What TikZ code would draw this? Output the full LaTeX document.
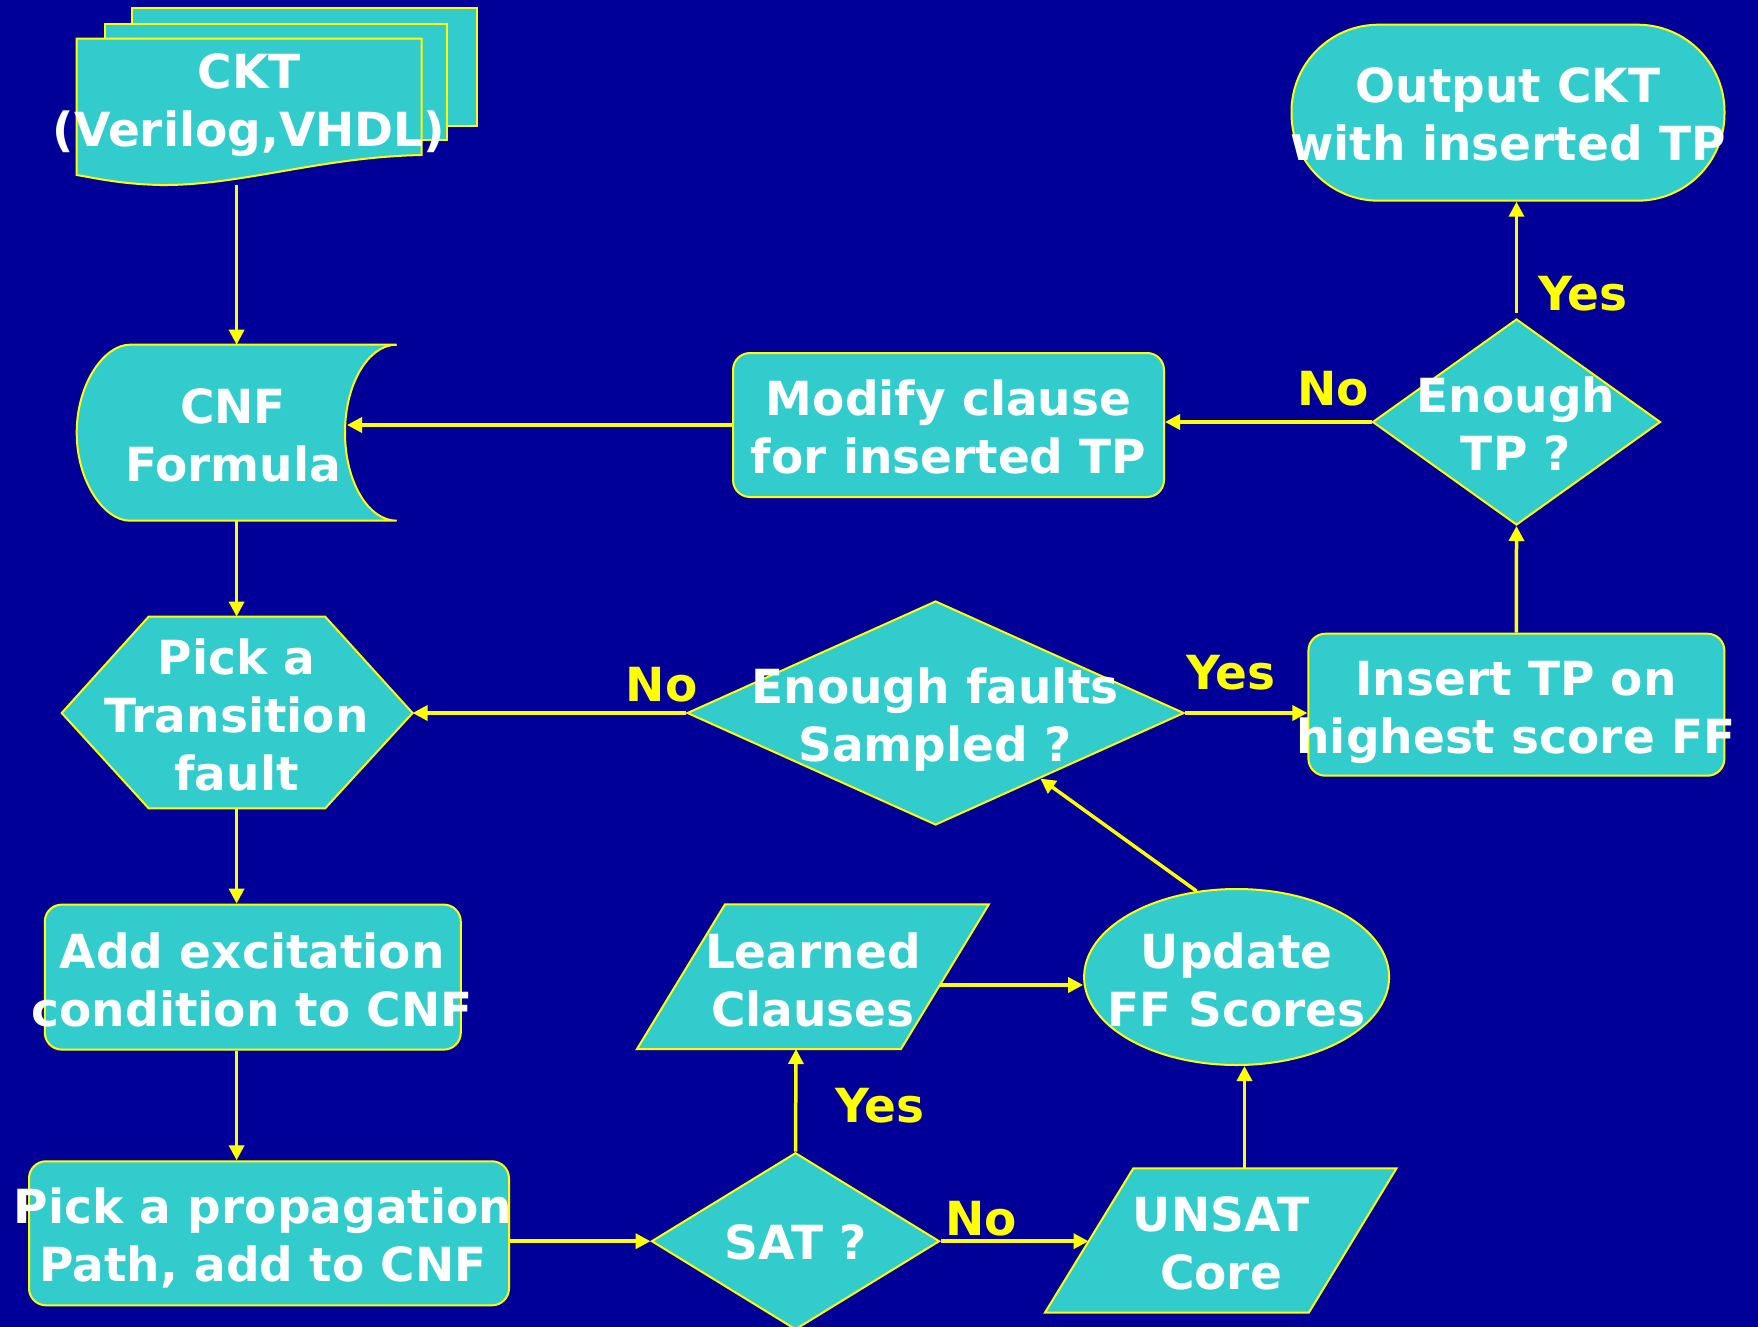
\documentclass[tikz,border=0pt]{standalone}
\usepackage{fontspec}
\setmainfont{DejaVu Sans}
\usetikzlibrary{shapes.geometric,arrows.meta,calc}
\definecolor{bgblue}{HTML}{000099}
\definecolor{boxfill}{HTML}{33CCCC}
\definecolor{lineyellow}{HTML}{FFFF00}
\begin{document}
\begin{tikzpicture}[x=1pt,y=-1pt,
  shp/.style={draw=lineyellow, line width=2pt, fill=boxfill},
  rbox/.style={shp, rectangle, rounded corners=17pt, inner sep=0pt},
  dmd/.style={shp, diamond, inner sep=0pt},
  txt/.style={text=white, font=\fontsize{47}{58}\selectfont\bfseries, align=center, inner sep=0pt},
  lbl/.style={text=lineyellow, font=\fontsize{47}{58}\selectfont\bfseries, inner sep=0pt},
  conn/.style={draw=lineyellow, line width=3.5pt, -{Triangle[length=15pt,width=15pt]}},
]
% page frame and background
\useasboundingbox (0,0) rectangle (1758,1327);
\clip (0,0) rectangle (1758,1327);
\fill[bgblue] (0,0) rectangle (1758,1327);

% circuit source: a stack of documents
\draw[shp] (131.7,8.3) rectangle (476.7,126);
\draw[shp] (105,24) rectangle (447,140);
\draw[shp] (76.7,38.7) -- (421.7,38.7) -- (421.7,155)
  .. controls (320,157) and (240,186) .. (160,185)
  .. controls (120,184) and (95,178) .. (76.7,175) -- cycle;
\coordinate (cktS) at (236.6,185);

% CNF formula: stored-data shape
\draw[shp] (130,344.7) -- (396.7,344.7)
  .. controls (368.1,344.7) and (345,384.1) .. (345,432.7)
  .. controls (345,481.3) and (368.1,520.7) .. (396.7,520.7)
  -- (130,520.7)
  .. controls (104,520.7) and (76.7,481.3) .. (76.7,432.7)
  .. controls (76.7,384.1) and (104,344.7) .. (130,344.7) -- cycle;
\coordinate (cnfN) at (236.6,344.7);
\coordinate (cnfS) at (236.6,520.7);
\coordinate (cnfE) at (347,425);

% fault selection: hexagon
\draw[shp] (61.7,713) -- (148.7,616.6) -- (325.1,616.6) -- (412.6,713)
  -- (325.1,808.4) -- (148.7,808.4) -- cycle;
\coordinate (hexN) at (236.6,616.6);
\coordinate (hexS) at (236.6,808.4);
\coordinate (hexE) at (412.6,713);

% learned clauses / unsat core: parallelograms
\draw[shp] (725,904.3) -- (988.9,904.3) -- (901,1049) -- (637,1049) -- cycle;
\coordinate (lcS) at (796,1049);
\coordinate (lcE) at (940,985);
\draw[shp] (1133.3,1168.3) -- (1396.5,1168.3) -- (1308.8,1312.7) -- (1044.9,1312.7) -- cycle;
\coordinate (unN) at (1244.5,1168.3);
\coordinate (unW) at (1088.5,1241.2);

% process boxes
\node[rbox, minimum width=431pt, minimum height=144pt] (mod) at (948.5,425) {};
\node[rbox, minimum width=416pt, minimum height=142pt] (ins) at (1516.4,704.7) {};
\node[rbox, minimum width=416pt, minimum height=145pt] (add) at (252.8,977.1) {};
\node[rbox, minimum width=480pt, minimum height=144pt] (pp) at (269,1233.3) {};
\node[shp, rectangle, rounded corners=87pt, inner sep=0pt, minimum width=433pt, minimum height=176pt] (out) at (1508,112.7) {};
\node[shp, ellipse, inner sep=0pt, minimum width=305pt, minimum height=176pt] (upd) at (1236.6,977) {};

% decisions
\node[dmd, minimum width=288pt, minimum height=206pt] (etp) at (1516.5,422) {};
\node[dmd, minimum width=497pt, minimum height=224pt] (enf) at (935.6,713) {};
\node[dmd, minimum width=288pt, minimum height=177pt] (sat) at (795.5,1241.2) {};

% flow
\draw[conn] (cktS) -- (cnfN);
\draw[conn] (cnfS) -- (hexN);
\draw[conn] (hexS) -- (hexS |- add.north);
\draw[conn] (add.south -| hexS) -- (pp.north -| hexS);
\draw[conn] (pp.east |- sat.west) -- (sat.west);
\draw[conn] (sat.north) -- (lcS);
\draw[conn] (sat.east) -- (unW);
\draw[conn] (lcE) -- (lcE -| upd.west);
\draw[conn] (unN) -- (unN |- upd.south);
\draw[conn] (upd.115) -- ($(enf.south)!0.42!(enf.east)$);
\draw[conn] (enf.west) -- (hexE);
\draw[conn] (enf.east) -- (enf.east -| ins.west);
\draw[conn] (ins.north) -- (etp.south);
\draw[conn, shorten <=5pt] (etp.north) -- (etp.north |- out.south);
\draw[conn] (etp.west) -- (etp.west -| mod.east);
\draw[conn] (mod.west) -- (mod.west -| cnfE);

% texts
\node[txt] (ckt-t) at (249,105) {CKT\\(Verilog,VHDL)};
\node[txt] (cnf-t) at (233,435) {CNF\\Formula};
\node[txt] (hex-t) at (236.6,715) {Pick a\\Transition\\fault};
\node[txt] (add-t) at (252.3,980) {Add excitation\\condition to CNF};
\node[txt] (pp-t) at (263,1238) {Pick a propagation\\Path, add to CNF};
\node[txt] (sat-t) at (796,1242) {SAT ?};
\node[txt] (lc-t) at (812.9,980) {Learned\\Clauses};
\node[txt] (un-t) at (1221,1243) {UNSAT\\Core};
\node[txt] (upd-t) at (1236.6,980) {Update\\FF Scores};
\node[txt] (enf-t) at (935,719.5) {Enough faults\\Sampled ?};
\node[txt] (ins-t) at (1516,712) {Insert TP on\\highest score FF};
\node[txt] (mod-t) at (948.6,427) {Modify clause\\for inserted TP};
\node[txt] (etp-t) at (1516,424) {Enough\\TP ?};
\node[txt] (out-t) at (1508,114) {Output CKT\\with inserted TP};

% branch labels
\node[lbl] (y1) at (1583,294) {Yes};
\node[lbl] (n1) at (1333,389) {No};
\node[lbl] (n2) at (661.5,685) {No};
\node[lbl] (y2) at (1231,673) {Yes};
\node[lbl] (y3) at (880,1105.5) {Yes};
\node[lbl] (n3) at (981,1219) {No};
\end{tikzpicture}
\end{document}
